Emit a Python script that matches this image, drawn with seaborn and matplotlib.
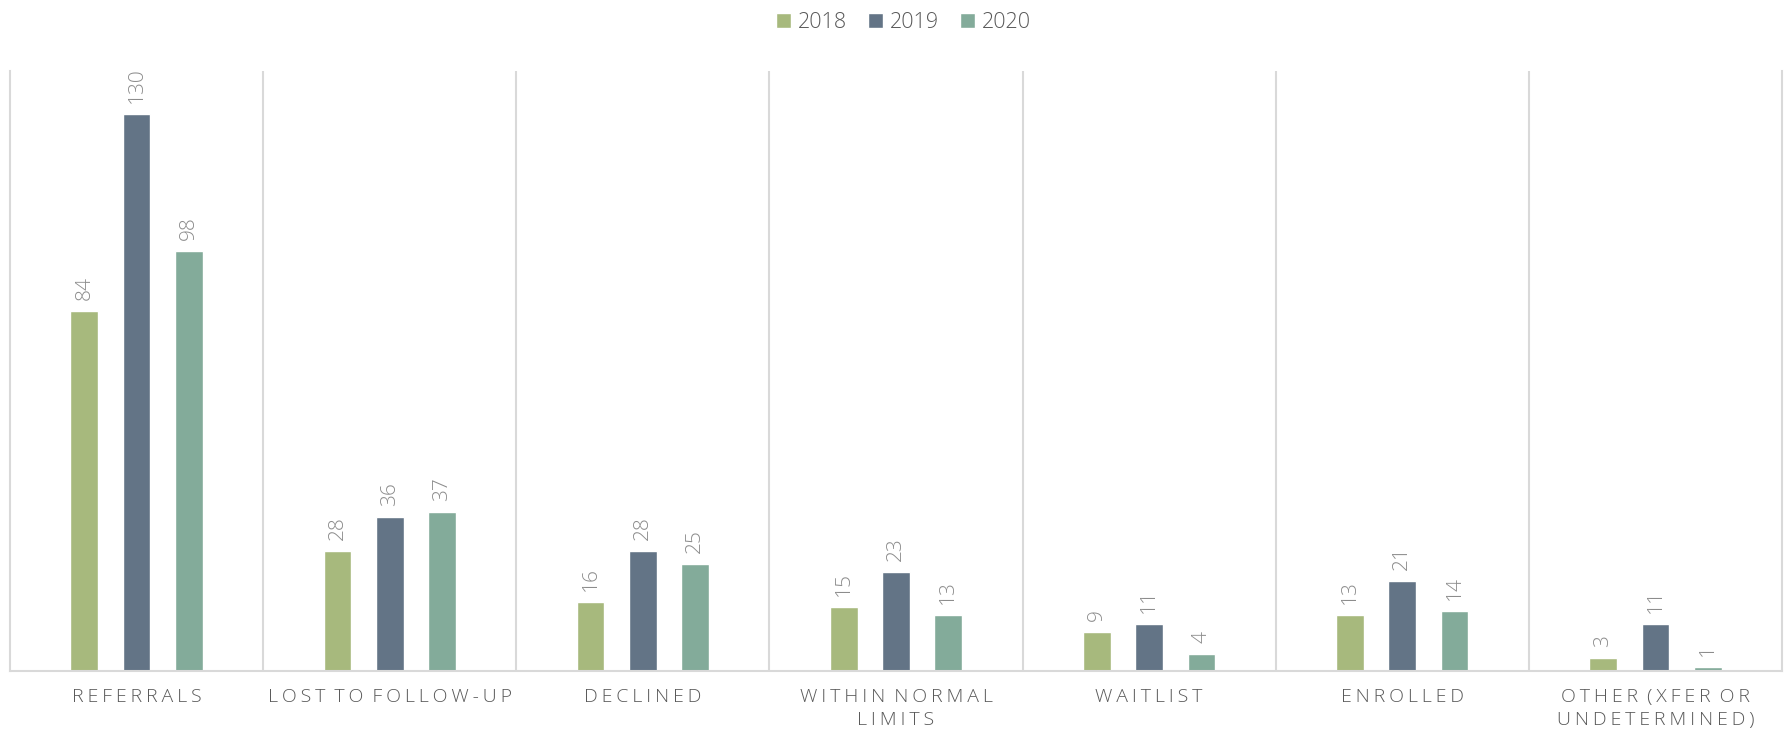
import pandas as pd
import numpy as np
import matplotlib
matplotlib.use("Agg")
import matplotlib.pyplot as plt
import seaborn as sns

categories = ["Referrals", "Lost to follow-up", "Declined", "Within normal\nlimits",
              "Waitlist", "Enrolled", "Other (xfer or\nundetermined)"]
years = ["2018", "2019", "2020"]
vals_2018 = [84, 28, 16, 15, 9, 13, 3]
vals_2019 = [130, 36, 28, 23, 11, 21, 11]
vals_2020 = [98, 37, 25, 13, 4, 14, 1]
colors = ["#A7B97D", "#637486", "#83AB9A"]

df = pd.DataFrame({
    "category": categories * 3,
    "year": [y for y in years for _ in categories],
    "value": vals_2018 + vals_2019 + vals_2020,
})


def spaced(s):
    # fake letter spacing with thin spaces
    lines = []
    for line in s.upper().split("\n"):
        words = ["\u2009".join(w) for w in line.split(" ")]
        lines.append("\u2009 ".join(words))
    return "\n".join(lines)


sns.set_style("white")
plt.rcParams["font.family"] = ["Open Sans", "DejaVu Sans"]

fig = plt.figure(figsize=(17.89, 7.35), dpi=100)
ax = fig.add_axes([10 / 1789, 64 / 735, 1772 / 1789, 600 / 735])

sns.barplot(data=df, x="category", y="value", hue="year", palette=colors,
            saturation=1, width=0.62, gap=0.47, ax=ax, legend=True)

for c in ax.containers:
    ax.bar_label(c, rotation=90, padding=8, fontsize=15, color="#8C8C8C",
                 fontweight="light")

ax.set_ylim(0, 140)
ax.set_xlim(-0.5, len(categories) - 0.5)
for xb in np.arange(0.5, len(categories) - 0.5, 1):
    ax.axvline(xb, color="#D9D9D9", lw=1.5, zorder=0)

ax.spines["top"].set_visible(False)
for s in ["left", "right", "bottom"]:
    ax.spines[s].set_color("#D9D9D9")
    ax.spines[s].set_linewidth(1.5)

ax.set_yticks([])
ax.set_xlabel("")
ax.set_ylabel("")
ax.set_xticks(range(len(categories)))
ax.set_xticklabels([spaced(c) for c in categories], fontsize=14, color="#595959",
                   linespacing=1.35, fontweight="light")
ax.tick_params(axis="x", length=0, pad=12)

handles, labels = ax.get_legend_handles_labels()
ax.get_legend().remove()
fig.legend(handles, labels, loc="upper center", bbox_to_anchor=(0.505, 1.01), ncol=3,
           frameon=False, prop={"size": 15.5, "weight": "light"}, labelcolor="#595959",
           handlelength=0.7, handleheight=0.7, handletextpad=0.3, columnspacing=1.0)

fig.savefig("out.png", dpi=100)
